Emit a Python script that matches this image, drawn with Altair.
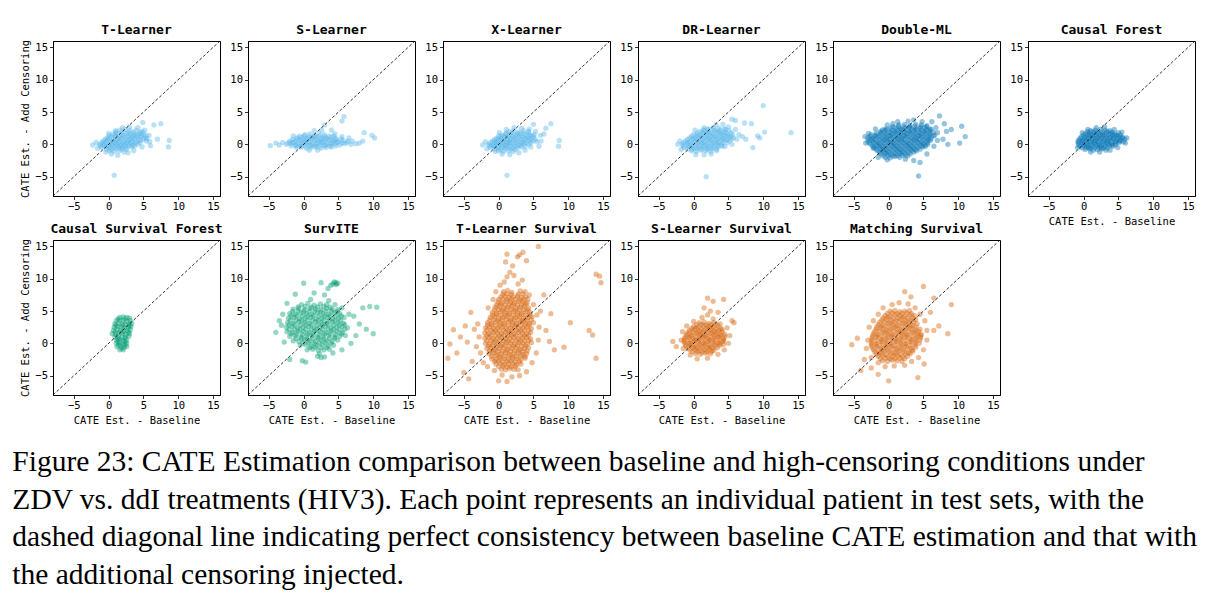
import altair as alt
import pandas as pd

# ---- axis set-up shared by every panel ----
AXIS_LIMITS = [-8, 16]
TICKS = [-5, 0, 5, 10, 15]
DIAGONAL = [-8, 16]

# ---- CATE estimates (baseline, with added censoring), one list per estimator ----
T_LEARNER = [
    (1.6, 2.2), (2.4, 2.3), (3.1, 2.1), (3.9, 2.2), (4.8, 2.0),
    (0.6, 1.6), (1.2, 1.7), (1.9, 1.5), (2.5, 1.7), (3.2, 1.6), (3.8, 1.5), (4.4, 1.7), (5.0, 1.6),
    (-0.2, 1.0), (0.4, 1.1), (1.0, 1.2), (1.6, 1.0), (2.2, 1.1), (2.8, 1.2), (3.4, 1.0), (4.0, 1.1), (4.6, 1.2), (5.3, 1.0),
    (-0.8, 0.5), (-0.2, 0.6), (0.4, 0.4), (1.0, 0.6), (1.6, 0.5), (2.2, 0.4), (2.8, 0.6), (3.4, 0.5), (4.0, 0.4), (4.6, 0.6), (5.4, 0.5),
    (-1.3, 0.0), (-0.7, 0.1), (-0.1, -0.1), (0.5, 0.0), (1.1, 0.1), (1.7, -0.1), (2.3, 0.0), (2.9, 0.1), (3.5, -0.1), (4.2, 0.0),
    (-1.0, -0.5), (-0.4, -0.4), (0.2, -0.6), (0.8, -0.5), (1.4, -0.4), (2.0, -0.6), (2.6, -0.5), (3.3, -0.4),
    (0.1, -1.0), (0.8, -1.1), (1.5, -1.0), (2.2, -1.2),
    (1.0, 1.9), (1.9, 1.95), (2.8, 1.9), (3.6, 1.85), (4.5, 1.9),
    (0.1, 1.35), (0.9, 1.4), (1.5, 1.3), (2.2, 1.4), (2.9, 1.35), (3.5, 1.3), (4.1, 1.4), (4.7, 1.35), (5.3, 1.4),
    (-0.5, 0.8), (0.1, 0.85), (0.7, 0.75), (1.3, 0.8), (1.9, 0.85), (2.5, 0.75), (3.1, 0.8), (3.7, 0.85), (4.3, 0.75), (5.0, 0.8),
    (-1.0, 0.25), (-0.4, 0.3), (0.2, 0.2), (0.8, 0.25), (1.4, 0.3), (2.0, 0.2), (2.6, 0.25), (3.2, 0.3), (3.8, 0.2), (4.5, 0.25),
    (-1.2, -0.25), (-0.6, -0.2), (0.0, -0.3), (0.6, -0.25), (1.2, -0.2), (1.8, -0.3), (2.4, -0.25), (3.0, -0.2), (3.7, -0.3),
    (-0.3, -0.75), (0.4, -0.8), (1.1, -0.7), (1.8, -0.75), (2.5, -0.8),
    (-2.3, -0.1), (-1.8, 0.3), (-1.6, -0.6), (0.0, 1.7), (1.0, 2.1), (2.0, 2.6), (3.0, 2.7), (4.2, 2.6), (5.2, 2.2),
    (5.8, 1.4), (5.9, 0.4), (6.0, -0.2), (5.5, 0.9), (4.8, -0.4), (3.6, -1.0), (2.8, -1.3), (1.3, -1.7), (0.4, -1.5), (-0.4, -1.2),
    (6.5, 3.0), (7.5, 3.2), (8.7, 0.6), (8.6, -0.4), (0.8, -4.8), (4.9, 3.4), (7.0, 0.8),
]

S_LEARNER = [
    (0.2, 1.5), (0.9, 1.6), (1.6, 1.4), (2.3, 1.6), (3.0, 1.5),
    (-1.0, 1.0), (-0.3, 1.1), (0.4, 0.9), (1.1, 1.0), (1.8, 1.1), (2.5, 0.9), (3.2, 1.0), (3.9, 1.1), (4.6, 0.9),
    (-2.0, 0.5), (-1.3, 0.4), (-0.6, 0.6), (0.1, 0.5), (0.8, 0.4), (1.5, 0.6), (2.2, 0.5), (2.9, 0.4), (3.6, 0.6),
    (4.3, 0.5), (5.0, 0.4), (5.7, 0.6), (6.4, 0.5),
    (-2.5, 0.0), (-1.8, 0.1), (-1.1, -0.1), (-0.4, 0.0), (0.3, 0.1), (1.0, -0.1), (1.7, 0.0), (2.4, 0.1), (3.1, -0.1),
    (3.8, 0.0), (4.5, 0.1), (5.2, -0.1), (5.9, 0.1), (6.8, 0.0), (7.5, 0.1),
    (-1.0, -0.5), (-0.3, -0.4), (0.4, -0.6), (1.1, -0.5), (1.8, -0.4), (2.5, -0.6), (3.2, -0.5), (4.0, -0.4),
    (-0.6, 1.25), (0.1, 1.3), (0.8, 1.2), (1.5, 1.25), (2.2, 1.3), (2.9, 1.2), (3.6, 1.25), (4.3, 1.3),
    (-1.6, 0.75), (-0.9, 0.8), (-0.2, 0.7), (0.5, 0.75), (1.2, 0.8), (1.9, 0.7), (2.6, 0.75), (3.3, 0.8), (4.0, 0.7),
    (4.7, 0.75), (5.4, 0.8),
    (-2.2, 0.25), (-1.5, 0.3), (-0.8, 0.2), (-0.1, 0.25), (0.6, 0.3), (1.3, 0.2), (2.0, 0.25), (2.7, 0.3), (3.4, 0.2),
    (4.1, 0.25), (4.8, 0.3), (5.5, 0.2), (6.2, 0.25),
    (-1.8, -0.25), (-1.1, -0.2), (-0.4, -0.3), (0.3, -0.25), (1.0, -0.2), (1.7, -0.3), (2.4, -0.25), (3.1, -0.2),
    (3.8, -0.3), (4.6, -0.25),
    (-3.5, -0.1), (-4.0, 0.2), (-4.8, -0.2), (-3.0, 0.3), (0.8, -0.9), (2.0, -0.9), (1.5, 2.1), (2.6, 2.2), (3.0, 3.0),
    (5.5, 3.6), (5.8, 4.3), (4.5, 1.6), (5.5, 1.2), (6.5, 1.0), (7.0, 0.5), (8.0, 0.2), (8.7, 1.8), (9.8, 1.4),
    (10.2, 1.0), (8.5, 0.5), (-1.5, 1.3), (4.0, 2.2),
]

X_LEARNER = [
    (1.5, 2.0), (2.2, 2.1), (2.9, 1.9), (3.6, 2.1), (4.3, 2.0),
    (0.4, 1.4), (1.0, 1.6), (1.7, 1.5), (2.4, 1.4), (3.1, 1.6), (3.8, 1.5), (4.5, 1.4), (5.1, 1.5),
    (-0.3, 0.9), (0.3, 1.0), (0.9, 1.1), (1.6, 0.9), (2.3, 1.0), (3.0, 1.1), (3.7, 0.9), (4.4, 1.0), (5.0, 1.1),
    (-0.9, 0.5), (-0.3, 0.4), (0.3, 0.6), (0.9, 0.5), (1.5, 0.4), (2.1, 0.6), (2.8, 0.5), (3.5, 0.4), (4.2, 0.6), (4.9, 0.5), (5.5, 0.4),
    (-1.5, 0.0), (-0.9, -0.1), (-0.3, 0.1), (0.3, 0.0), (0.9, -0.1), (1.5, 0.1), (2.2, 0.0), (2.9, -0.1), (3.6, 0.1), (4.3, 0.0),
    (-1.2, -0.5), (-0.6, -0.4), (0.0, -0.6), (0.7, -0.5), (1.3, -0.4), (2.0, -0.6), (2.7, -0.5), (3.3, -0.4),
    (0.0, -1.0), (0.7, -1.1), (1.4, -1.0), (2.1, -1.1),
    (1.1, 1.75), (1.9, 1.8), (2.7, 1.7), (3.5, 1.75), (4.3, 1.8),
    (0.0, 1.25), (0.7, 1.3), (1.3, 1.2), (2.0, 1.25), (2.7, 1.3), (3.4, 1.2), (4.1, 1.25), (4.8, 1.3),
    (-0.6, 0.75), (0.0, 0.8), (0.6, 0.7), (1.2, 0.75), (1.8, 0.8), (2.5, 0.7), (3.2, 0.75), (3.9, 0.8), (4.6, 0.7), (5.3, 0.75),
    (-1.2, 0.25), (-0.6, 0.3), (0.0, 0.2), (0.6, 0.25), (1.2, 0.3), (1.8, 0.2), (2.5, 0.25), (3.2, 0.3), (3.9, 0.2), (4.6, 0.25),
    (-1.3, -0.25), (-0.7, -0.2), (-0.1, -0.3), (0.5, -0.25), (1.1, -0.2), (1.7, -0.3), (2.4, -0.25), (3.1, -0.2), (3.8, -0.3),
    (-0.5, -0.75), (0.3, -0.8), (1.0, -0.7), (1.7, -0.75), (2.4, -0.8),
    (-2.3, -0.1), (-1.9, 0.4), (-1.7, -0.7), (0.1, 1.8), (1.1, 2.3), (2.2, 2.6), (3.3, 2.5), (4.4, 2.4), (5.3, 2.0),
    (6.0, 1.4), (6.1, 0.5), (5.8, -0.3), (4.6, -0.4), (3.8, -0.9), (2.9, -1.3), (1.6, -1.6), (0.5, -1.5), (-0.5, -1.1),
    (6.8, 2.5), (7.5, 3.2), (8.7, 0.6), (8.6, -0.3), (1.2, -4.8), (5.0, 3.1), (6.5, 1.6),
]

DR_LEARNER = [
    (2.0, 2.4), (2.8, 2.6), (3.6, 2.5), (4.4, 2.4),
    (0.9, 2.0), (1.6, 2.1), (2.3, 1.9), (3.0, 2.1), (3.7, 2.0), (4.4, 1.9), (5.1, 2.1),
    (0.0, 1.5), (0.7, 1.4), (1.4, 1.6), (2.1, 1.5), (2.8, 1.4), (3.5, 1.6), (4.2, 1.5), (4.9, 1.4), (5.6, 1.5),
    (-0.6, 1.0), (0.1, 0.9), (0.8, 1.1), (1.5, 1.0), (2.2, 0.9), (2.9, 1.1), (3.6, 1.0), (4.3, 0.9), (5.0, 1.1), (5.7, 1.0),
    (-1.2, 0.5), (-0.5, 0.4), (0.2, 0.6), (0.9, 0.5), (1.6, 0.4), (2.3, 0.6), (3.0, 0.5), (3.7, 0.4), (4.4, 0.6), (5.1, 0.5),
    (-1.6, 0.0), (-0.9, 0.1), (-0.2, -0.1), (0.5, 0.0), (1.2, 0.1), (1.9, -0.1), (2.6, 0.0), (3.3, 0.1), (4.0, -0.1),
    (-1.4, -0.5), (-0.7, -0.4), (0.0, -0.6), (0.7, -0.5), (1.4, -0.4), (2.1, -0.6), (2.8, -0.5), (3.5, -0.4),
    (-0.3, -1.0), (0.4, -1.1), (1.1, -0.9), (1.8, -1.0), (2.5, -1.1),
    (1.4, 2.25), (2.2, 2.3), (3.0, 2.2), (3.8, 2.25), (4.6, 2.3),
    (0.5, 1.75), (1.2, 1.8), (1.9, 1.7), (2.6, 1.75), (3.3, 1.8), (4.0, 1.7), (4.7, 1.75), (5.4, 1.8),
    (-0.3, 1.25), (0.4, 1.3), (1.1, 1.2), (1.8, 1.25), (2.5, 1.3), (3.2, 1.2), (3.9, 1.25), (4.6, 1.3), (5.3, 1.2),
    (-0.9, 0.75), (-0.2, 0.8), (0.5, 0.7), (1.2, 0.75), (1.9, 0.8), (2.6, 0.7), (3.3, 0.75), (4.0, 0.8), (4.7, 0.7), (5.4, 0.75),
    (-1.5, 0.25), (-0.8, 0.3), (-0.1, 0.2), (0.6, 0.25), (1.3, 0.3), (2.0, 0.2), (2.7, 0.25), (3.4, 0.3), (4.1, 0.2), (4.8, 0.25),
    (-1.5, -0.25), (-0.8, -0.2), (-0.1, -0.3), (0.6, -0.25), (1.3, -0.2), (2.0, -0.3), (2.7, -0.25), (3.4, -0.2), (4.1, -0.3),
    (-0.9, -0.75), (-0.2, -0.8), (0.5, -0.7), (1.2, -0.75), (1.9, -0.8), (2.6, -0.7), (3.3, -0.75),
    (-2.3, 0.0), (-2.0, 0.5), (-1.8, -0.8), (0.3, -1.6), (1.5, -1.6), (2.5, -1.5), (3.3, -1.0), (4.5, -0.3), (5.5, 0.0),
    (6.2, 0.8), (6.5, 1.5), (6.0, 2.3), (5.0, 2.7), (4.2, 3.1), (3.2, 3.0), (1.5, 2.6), (0.2, 2.2), (5.5, 3.9), (6.0, 3.7),
    (10.0, 6.0), (14.0, 1.8), (10.2, 1.9), (8.5, -0.5), (8.3, 3.2), (7.3, 3.3), (1.8, -5.0), (9.5, 1.0), (9.2, 1.3),
    (7.0, 1.2), (7.5, 0.8),
]

DOUBLE_ML = [
    (1.5, 3.0), (2.3, 3.1), (3.1, 2.9), (3.9, 3.1), (4.7, 3.0), (5.5, 2.9),
    (-0.5, 2.4), (0.3, 2.5), (1.0, 2.6), (1.7, 2.4), (2.4, 2.5), (3.1, 2.6), (3.8, 2.4), (4.5, 2.5), (5.2, 2.6), (5.9, 2.4),
    (-1.2, 2.0), (-0.5, 2.1), (0.2, 1.9), (0.9, 2.0), (1.6, 2.1), (2.3, 1.9), (3.0, 2.0), (3.7, 2.1), (4.4, 1.9),
    (5.1, 2.0), (5.8, 2.1), (6.4, 1.9),
    (-2.5, 1.5), (-1.8, 1.4), (-1.1, 1.6), (-0.4, 1.5), (0.3, 1.4), (1.0, 1.6), (1.7, 1.5), (2.4, 1.4), (3.1, 1.6),
    (3.8, 1.5), (4.5, 1.4), (5.2, 1.6), (5.9, 1.5), (6.6, 1.4),
    (-3.0, 1.0), (-2.3, 0.9), (-1.6, 1.1), (-0.9, 1.0), (-0.2, 0.9), (0.5, 1.1), (1.2, 1.0), (1.9, 0.9), (2.6, 1.1),
    (3.3, 1.0), (4.0, 0.9), (4.7, 1.1), (5.4, 1.0), (6.1, 0.9),
    (-3.0, 0.5), (-2.3, 0.6), (-1.6, 0.4), (-0.9, 0.5), (-0.2, 0.6), (0.5, 0.4), (1.2, 0.5), (1.9, 0.6), (2.6, 0.4),
    (3.3, 0.5), (4.0, 0.6), (4.7, 0.4), (5.4, 0.5), (6.0, 0.6),
    (-2.6, 0.0), (-1.9, 0.1), (-1.2, -0.1), (-0.5, 0.0), (0.2, 0.1), (0.9, -0.1), (1.6, 0.0), (2.3, 0.1), (3.0, -0.1),
    (3.7, 0.0), (4.4, 0.1), (5.1, -0.1), (5.6, 0.0),
    (-2.1, -0.5), (-1.4, -0.4), (-0.7, -0.6), (0.0, -0.5), (0.7, -0.4), (1.4, -0.6), (2.1, -0.5), (2.8, -0.4),
    (3.5, -0.6), (4.2, -0.5), (4.9, -0.4),
    (-1.6, -1.0), (-0.9, -0.9), (-0.2, -1.1), (0.5, -1.0), (1.2, -0.9), (1.9, -1.1), (2.6, -1.0), (3.3, -0.9), (4.0, -1.0),
    (-1.1, -1.5), (-0.4, -1.4), (0.3, -1.6), (1.0, -1.5), (1.7, -1.4), (2.4, -1.6), (3.1, -1.5),
    (-0.5, -2.0), (0.2, -2.1), (0.9, -1.9), (1.6, -2.0),
    (0.6, 2.75), (1.4, 2.8), (2.2, 2.7), (3.0, 2.75), (3.8, 2.8), (4.6, 2.7), (5.4, 2.75),
    (-0.9, 2.25), (-0.2, 2.3), (0.5, 2.2), (1.2, 2.25), (1.9, 2.3), (2.6, 2.2), (3.3, 2.25), (4.0, 2.3), (4.7, 2.2),
    (5.4, 2.25), (6.1, 2.3),
    (-1.8, 1.75), (-1.1, 1.8), (-0.4, 1.7), (0.3, 1.75), (1.0, 1.8), (1.7, 1.7), (2.4, 1.75), (3.1, 1.8), (3.8, 1.7),
    (4.5, 1.75), (5.2, 1.8), (5.9, 1.7),
    (-2.7, 1.25), (-2.0, 1.3), (-1.3, 1.2), (-0.6, 1.25), (0.1, 1.3), (0.8, 1.2), (1.5, 1.25), (2.2, 1.3), (2.9, 1.2),
    (3.6, 1.25), (4.3, 1.3), (5.0, 1.2), (5.7, 1.25), (6.4, 1.3),
    (-2.7, 0.75), (-2.0, 0.8), (-1.3, 0.7), (-0.6, 0.75), (0.1, 0.8), (0.8, 0.7), (1.5, 0.75), (2.2, 0.8), (2.9, 0.7),
    (3.6, 0.75), (4.3, 0.8), (5.0, 0.7), (5.7, 0.75),
    (-2.8, 0.25), (-2.1, 0.3), (-1.4, 0.2), (-0.7, 0.25), (0.0, 0.3), (0.7, 0.2), (1.4, 0.25), (2.1, 0.3), (2.8, 0.2),
    (3.5, 0.25), (4.2, 0.3), (4.9, 0.2), (5.6, 0.25),
    (-2.3, -0.25), (-1.6, -0.2), (-0.9, -0.3), (-0.2, -0.25), (0.5, -0.2), (1.2, -0.3), (1.9, -0.25), (2.6, -0.2),
    (3.3, -0.3), (4.0, -0.25), (4.7, -0.2), (5.3, -0.3),
    (-1.8, -0.75), (-1.1, -0.7), (-0.4, -0.8), (0.3, -0.75), (1.0, -0.7), (1.7, -0.8), (2.4, -0.75), (3.1, -0.7),
    (3.8, -0.8), (4.5, -0.75),
    (-1.3, -1.25), (-0.6, -1.2), (0.1, -1.3), (0.8, -1.25), (1.5, -1.2), (2.2, -1.3), (2.9, -1.25), (3.6, -1.2),
    (-0.8, -1.75), (-0.1, -1.7), (0.6, -1.8), (1.3, -1.75), (2.0, -1.7), (2.7, -1.8),
    (-3.4, 1.2), (-3.3, 0.2), (-2.9, 1.7), (-2.2, -0.6), (-1.9, 2.4), (-0.2, 3.0), (0.6, 3.2), (1.3, 3.5), (2.8, 3.6),
    (3.6, 3.8), (4.8, 3.5), (6.2, 3.5), (6.8, 2.6), (7.0, 1.8), (7.0, 0.6), (6.5, -0.3), (5.5, -1.5), (4.5, -2.8),
    (3.6, -2.5), (2.4, -2.3), (-0.2, -2.4), (-1.5, -2.0),
    (7.3, 4.4), (8.3, 2.0), (9.0, 2.3), (10.5, 2.8), (11.0, 1.2), (10.2, 0.2), (8.5, 0.0), (4.3, -4.9), (7.8, 0.8), (8.0, 3.2),
]

CAUSAL_FOREST = [
    (1.0, 2.1), (1.7, 2.2), (2.4, 2.3), (3.1, 2.2), (3.8, 2.1),
    (0.3, 1.7), (0.9, 1.6), (1.5, 1.8), (2.1, 1.7), (2.7, 1.6), (3.3, 1.8), (3.9, 1.7), (4.5, 1.6), (5.0, 1.8),
    (-0.3, 1.2), (0.3, 1.1), (0.9, 1.3), (1.5, 1.2), (2.1, 1.1), (2.7, 1.3), (3.3, 1.2), (3.9, 1.1), (4.5, 1.3),
    (5.1, 1.2), (5.6, 1.1),
    (-0.7, 0.7), (-0.1, 0.6), (0.5, 0.8), (1.1, 0.7), (1.7, 0.6), (2.3, 0.8), (2.9, 0.7), (3.5, 0.6), (4.1, 0.8),
    (4.7, 0.7), (5.3, 0.6), (5.9, 0.8),
    (-0.8, 0.2), (-0.2, 0.3), (0.4, 0.1), (1.0, 0.2), (1.6, 0.3), (2.2, 0.1), (2.8, 0.2), (3.4, 0.3), (4.0, 0.1),
    (4.6, 0.2), (5.1, 0.3),
    (-0.5, -0.3), (0.1, -0.2), (0.7, -0.4), (1.3, -0.3), (1.9, -0.2), (2.5, -0.4), (3.1, -0.3), (3.7, -0.2), (4.2, -0.3),
    (0.2, -0.8), (0.8, -0.7), (1.4, -0.9), (2.0, -0.8), (2.6, -0.7), (3.2, -0.9),
    (0.6, 1.95), (1.3, 2.0), (2.0, 1.9), (2.7, 1.95), (3.4, 2.0), (4.1, 1.9),
    (0.0, 1.45), (0.6, 1.5), (1.2, 1.4), (1.8, 1.45), (2.4, 1.5), (3.0, 1.4), (3.6, 1.45), (4.2, 1.5), (4.8, 1.4), (5.3, 1.45),
    (-0.5, 0.95), (0.1, 1.0), (0.7, 0.9), (1.3, 0.95), (1.9, 1.0), (2.5, 0.9), (3.1, 0.95), (3.7, 1.0), (4.3, 0.9),
    (4.9, 0.95), (5.5, 1.0),
    (-0.8, 0.45), (-0.2, 0.5), (0.4, 0.4), (1.0, 0.45), (1.6, 0.5), (2.2, 0.4), (2.8, 0.45), (3.4, 0.5), (4.0, 0.4),
    (4.6, 0.45), (5.2, 0.5), (5.7, 0.4),
    (-0.7, -0.05), (-0.1, 0.0), (0.5, -0.1), (1.1, -0.05), (1.7, 0.0), (2.3, -0.1), (2.9, -0.05), (3.5, 0.0), (4.1, -0.1),
    (4.6, -0.05),
    (-0.2, -0.55), (0.4, -0.5), (1.0, -0.6), (1.6, -0.55), (2.2, -0.5), (2.8, -0.6), (3.4, -0.55),
    (-0.9, -0.5), (-0.2, 1.8), (0.6, 2.3), (1.8, 2.6), (3.0, 2.7), (4.4, 2.3), (5.5, 1.9), (6.2, 1.0), (6.0, 0.2),
    (4.9, -0.5), (3.8, -0.9), (2.3, -1.2), (1.0, -1.2),
]

CAUSAL_SURVIVAL_FOREST = [
    (1.6, 4.0), (2.1, 4.1), (2.6, 4.0), (3.0, 3.9),
    (1.1, 3.5), (1.6, 3.6), (2.1, 3.5), (2.6, 3.4), (3.1, 3.5),
    (0.9, 3.0), (1.4, 3.1), (1.9, 3.0), (2.4, 2.9), (2.9, 3.0), (3.3, 3.1),
    (0.8, 2.5), (1.3, 2.6), (1.8, 2.5), (2.3, 2.4), (2.8, 2.5), (3.2, 2.6),
    (0.7, 2.0), (1.2, 2.1), (1.7, 2.0), (2.2, 1.9), (2.7, 2.0), (3.1, 2.1),
    (0.5, 1.5), (1.0, 1.4), (1.5, 1.6), (2.0, 1.5), (2.5, 1.4), (3.0, 1.5),
    (0.9, 1.0), (1.4, 1.1), (1.9, 0.9), (2.4, 1.0), (2.9, 1.1),
    (1.1, 0.5), (1.6, 0.6), (2.1, 0.4), (2.6, 0.5),
    (1.1, 0.0), (1.6, 0.1), (2.1, -0.1), (2.6, 0.0),
    (1.2, -0.5), (1.7, -0.4), (2.2, -0.6), (2.6, -0.5),
    (1.6, -1.0), (2.1, -1.0),
    (1.35, 3.8), (2.35, 3.8), (1.05, 2.75), (2.05, 2.75), (3.05, 2.75), (0.95, 1.75), (1.95, 1.75), (2.85, 1.75),
    (1.35, 0.75), (2.35, 0.75), (1.35, 0.25), (2.35, 0.25), (1.45, -0.25), (2.35, -0.25), (1.85, -0.75),
]

SURVITE = [
    (-0.3, 6.0), (0.6, 6.2), (1.5, 5.9), (2.4, 6.1), (3.3, 6.0),
    (-1.5, 5.3), (-0.7, 5.4), (0.1, 5.2), (0.9, 5.4), (1.7, 5.3), (2.5, 5.2), (3.3, 5.4), (4.1, 5.3), (4.9, 5.2),
    (-2.0, 4.6), (-1.2, 4.5), (-0.4, 4.7), (0.4, 4.6), (1.2, 4.5), (2.0, 4.7), (2.8, 4.6), (3.6, 4.5), (4.4, 4.7), (5.2, 4.6),
    (-2.2, 3.9), (-1.4, 4.0), (-0.6, 3.8), (0.2, 3.9), (1.0, 4.0), (1.8, 3.8), (2.6, 3.9), (3.4, 4.0), (4.2, 3.8),
    (5.0, 3.9), (5.8, 4.0),
    (-2.3, 3.2), (-1.5, 3.1), (-0.7, 3.3), (0.1, 3.2), (0.9, 3.1), (1.7, 3.3), (2.5, 3.2), (3.3, 3.1), (4.1, 3.3),
    (4.9, 3.2), (5.7, 3.1),
    (-2.5, 2.5), (-1.7, 2.6), (-0.9, 2.4), (-0.1, 2.5), (0.7, 2.6), (1.5, 2.4), (2.3, 2.5), (3.1, 2.6), (3.9, 2.4),
    (4.7, 2.5), (5.5, 2.6), (6.3, 2.4),
    (-2.4, 1.8), (-1.6, 1.7), (-0.8, 1.9), (0.0, 1.8), (0.8, 1.7), (1.6, 1.9), (2.4, 1.8), (3.2, 1.7), (4.0, 1.9),
    (4.8, 1.8), (5.6, 1.7),
    (-2.0, 1.1), (-1.2, 1.2), (-0.4, 1.0), (0.4, 1.1), (1.2, 1.2), (2.0, 1.0), (2.8, 1.1), (3.6, 1.2), (4.4, 1.0),
    (5.2, 1.1), (6.0, 1.2),
    (-1.5, 0.4), (-0.7, 0.3), (0.1, 0.5), (0.9, 0.4), (1.7, 0.3), (2.5, 0.5), (3.3, 0.4), (4.1, 0.3), (4.9, 0.5),
    (-0.5, -0.3), (0.3, -0.2), (1.1, -0.4), (1.9, -0.3), (2.7, -0.2), (3.5, -0.4), (4.3, -0.3),
    (0.5, -1.0), (1.3, -0.9), (2.1, -1.1), (2.9, -1.0), (3.7, -0.9),
    (-0.8, 5.65), (0.2, 5.7), (1.1, 5.6), (2.0, 5.65), (2.9, 5.7), (3.8, 5.6),
    (-1.6, 4.95), (-0.8, 5.0), (0.0, 4.9), (0.8, 4.95), (1.6, 5.0), (2.4, 4.9), (3.2, 4.95), (4.0, 5.0), (4.8, 4.9),
    (-1.8, 4.25), (-1.0, 4.3), (-0.2, 4.2), (0.6, 4.25), (1.4, 4.3), (2.2, 4.2), (3.0, 4.25), (3.8, 4.3), (4.6, 4.2), (5.4, 4.25),
    (-1.9, 3.55), (-1.1, 3.6), (-0.3, 3.5), (0.5, 3.55), (1.3, 3.6), (2.1, 3.5), (2.9, 3.55), (3.7, 3.6), (4.5, 3.5), (5.3, 3.55),
    (-2.1, 2.85), (-1.3, 2.9), (-0.5, 2.8), (0.3, 2.85), (1.1, 2.9), (1.9, 2.8), (2.7, 2.85), (3.5, 2.9), (4.3, 2.8),
    (5.1, 2.85), (5.9, 2.9),
    (-2.1, 2.15), (-1.3, 2.2), (-0.5, 2.1), (0.3, 2.15), (1.1, 2.2), (1.9, 2.1), (2.7, 2.15), (3.5, 2.2), (4.3, 2.1),
    (5.1, 2.15), (5.9, 2.2),
    (-1.8, 1.45), (-1.0, 1.5), (-0.2, 1.4), (0.6, 1.45), (1.4, 1.5), (2.2, 1.4), (3.0, 1.45), (3.8, 1.5), (4.6, 1.4), (5.4, 1.45),
    (-1.1, 0.75), (-0.3, 0.8), (0.5, 0.7), (1.3, 0.75), (2.1, 0.8), (2.9, 0.7), (3.7, 0.75), (4.5, 0.8),
    (-0.1, 0.05), (0.7, 0.1), (1.5, 0.0), (2.3, 0.05), (3.1, 0.1), (3.9, 0.0),
    (0.9, -0.65), (1.7, -0.6), (2.5, -0.7), (3.3, -0.65),
    (2.0, -2.0), (2.5, -2.2), (3.0, -2.1), (2.3, -1.6),
    (4.2, 9.2), (4.6, 9.4), (4.9, 9.3), (4.4, 9.5), (4.7, 9.1), (3.9, 9.0),
    (-4.0, 1.7), (-3.2, 2.8), (-3.0, 4.5), (-2.4, 6.2), (-1.2, 7.6), (0.0, 9.3), (2.5, 9.4), (1.0, 6.8), (3.0, 7.5),
    (3.6, 6.6), (4.5, 6.0), (5.5, 5.5), (6.5, 4.5), (7.2, 4.2), (8.5, 5.5), (9.5, 5.7), (10.5, 5.6), (7.5, 1.2),
    (8.0, 3.0), (9.0, 2.2), (10.0, 1.5), (6.8, 0.0), (5.5, -1.0), (4.2, -1.5), (-2.0, -2.5), (-0.2, -2.7), (0.3, -2.9),
    (-2.8, 0.2), (-3.5, 3.5), (3.5, 8.5), (1.5, 7.8),
]

T_LEARNER_SURVIVAL = [
    (0.7, 8.0), (1.3, 8.2), (1.9, 7.9), (3.1, 8.1), (3.8, 8.0),
    (0.3, 7.2), (0.9, 7.3), (1.5, 7.1), (2.1, 7.2), (2.7, 7.3), (3.3, 7.1), (3.9, 7.2),
    (-0.1, 6.4), (0.5, 6.3), (1.1, 6.5), (1.7, 6.4), (2.3, 6.3), (2.9, 6.5), (3.5, 6.4), (4.1, 6.3),
    (-0.5, 5.6), (0.1, 5.7), (0.7, 5.5), (1.3, 5.6), (1.9, 5.7), (2.5, 5.5), (3.1, 5.6), (3.7, 5.7), (4.3, 5.5),
    (-0.9, 4.8), (-0.3, 4.7), (0.3, 4.9), (0.9, 4.8), (1.5, 4.7), (2.1, 4.9), (2.7, 4.8), (3.3, 4.7), (3.9, 4.9), (4.5, 4.8),
    (-1.2, 4.0), (-0.6, 4.1), (0.0, 3.9), (0.6, 4.0), (1.2, 4.1), (1.8, 3.9), (2.4, 4.0), (3.0, 4.1), (3.6, 3.9),
    (4.2, 4.0), (4.8, 4.1),
    (-1.6, 3.2), (-1.0, 3.1), (-0.4, 3.3), (0.2, 3.2), (0.8, 3.1), (1.4, 3.3), (2.0, 3.2), (2.6, 3.1), (3.2, 3.3),
    (3.8, 3.2), (4.4, 3.1), (5.0, 3.2),
    (-1.9, 2.4), (-1.3, 2.5), (-0.7, 2.3), (-0.1, 2.4), (0.5, 2.5), (1.1, 2.3), (1.7, 2.4), (2.3, 2.5), (2.9, 2.3),
    (3.5, 2.4), (4.1, 2.5), (4.7, 2.3),
    (-2.0, 1.6), (-1.4, 1.5), (-0.8, 1.7), (-0.2, 1.6), (0.4, 1.5), (1.0, 1.7), (1.6, 1.6), (2.2, 1.5), (2.8, 1.7),
    (3.4, 1.6), (4.0, 1.5), (4.6, 1.7),
    (-2.0, 0.8), (-1.4, 0.9), (-0.8, 0.7), (-0.2, 0.8), (0.4, 0.9), (1.0, 0.7), (1.6, 0.8), (2.2, 0.9), (2.8, 0.7),
    (3.4, 0.8), (4.0, 0.9), (4.6, 0.7),
    (-1.9, 0.0), (-1.3, -0.1), (-0.7, 0.1), (-0.1, 0.0), (0.5, -0.1), (1.1, 0.1), (1.7, 0.0), (2.3, -0.1), (2.9, 0.1),
    (3.5, 0.0), (4.1, -0.1), (4.7, 0.1),
    (-1.7, -0.8), (-1.1, -0.7), (-0.5, -0.9), (0.1, -0.8), (0.7, -0.7), (1.3, -0.9), (1.9, -0.8), (2.5, -0.7),
    (3.1, -0.9), (3.7, -0.8), (4.3, -0.7),
    (-1.4, -1.6), (-0.8, -1.5), (-0.2, -1.7), (0.4, -1.6), (1.0, -1.5), (1.6, -1.7), (2.2, -1.6), (2.8, -1.5),
    (3.4, -1.7), (4.0, -1.6),
    (-1.0, -2.4), (-0.4, -2.5), (0.2, -2.3), (0.8, -2.4), (1.4, -2.5), (2.0, -2.3), (2.6, -2.4), (3.2, -2.5), (3.8, -2.3),
    (-0.4, -3.2), (0.2, -3.1), (0.8, -3.3), (1.4, -3.2), (2.0, -3.1), (2.6, -3.3), (3.2, -3.2),
    (0.4, -4.0), (1.0, -4.1), (1.6, -3.9), (2.2, -4.0), (2.8, -4.1),
    (0.6, 7.6), (1.2, 7.65), (1.8, 7.55), (2.8, 7.6), (3.5, 7.65),
    (0.0, 6.8), (0.6, 6.85), (1.2, 6.75), (1.8, 6.8), (2.4, 6.85), (3.0, 6.75), (3.6, 6.8), (4.2, 6.85),
    (-0.3, 6.0), (0.3, 6.05), (0.9, 5.95), (1.5, 6.0), (2.1, 6.05), (2.7, 5.95), (3.3, 6.0), (3.9, 6.05),
    (-0.6, 5.2), (0.0, 5.25), (0.6, 5.15), (1.2, 5.2), (1.8, 5.25), (2.4, 5.15), (3.0, 5.2), (3.6, 5.25), (4.2, 5.15),
    (-0.9, 4.4), (-0.3, 4.45), (0.3, 4.35), (0.9, 4.4), (1.5, 4.45), (2.1, 4.35), (2.7, 4.4), (3.3, 4.45), (3.9, 4.35), (4.5, 4.4),
    (-1.3, 3.6), (-0.7, 3.65), (-0.1, 3.55), (0.5, 3.6), (1.1, 3.65), (1.7, 3.55), (2.3, 3.6), (2.9, 3.65), (3.5, 3.55),
    (4.1, 3.6), (4.7, 3.65),
    (-1.6, 2.8), (-1.0, 2.85), (-0.4, 2.75), (0.2, 2.8), (0.8, 2.85), (1.4, 2.75), (2.0, 2.8), (2.6, 2.85), (3.2, 2.75),
    (3.8, 2.8), (4.4, 2.85),
    (-1.7, 2.0), (-1.1, 2.05), (-0.5, 1.95), (0.1, 2.0), (0.7, 2.05), (1.3, 1.95), (1.9, 2.0), (2.5, 2.05), (3.1, 1.95),
    (3.7, 2.0), (4.3, 2.05),
    (-1.7, 1.2), (-1.1, 1.25), (-0.5, 1.15), (0.1, 1.2), (0.7, 1.25), (1.3, 1.15), (1.9, 1.2), (2.5, 1.25), (3.1, 1.15),
    (3.7, 1.2), (4.3, 1.25),
    (-1.7, 0.4), (-1.1, 0.45), (-0.5, 0.35), (0.1, 0.4), (0.7, 0.45), (1.3, 0.35), (1.9, 0.4), (2.5, 0.45), (3.1, 0.35),
    (3.7, 0.4), (4.3, 0.45),
    (-1.5, -0.4), (-0.9, -0.35), (-0.3, -0.45), (0.3, -0.4), (0.9, -0.35), (1.5, -0.45), (2.1, -0.4), (2.7, -0.35),
    (3.3, -0.45), (3.9, -0.4),
    (-1.3, -1.2), (-0.7, -1.15), (-0.1, -1.25), (0.5, -1.2), (1.1, -1.15), (1.7, -1.25), (2.3, -1.2), (2.9, -1.15),
    (3.5, -1.25), (4.1, -1.2),
    (-1.0, -2.0), (-0.4, -1.95), (0.2, -2.05), (0.8, -2.0), (1.4, -1.95), (2.0, -2.05), (2.6, -2.0), (3.2, -1.95), (3.8, -2.05),
    (-0.6, -2.8), (0.0, -2.75), (0.6, -2.85), (1.2, -2.8), (1.8, -2.75), (2.4, -2.85), (3.0, -2.8),
    (0.0, -3.6), (0.6, -3.55), (1.2, -3.65), (1.8, -3.6), (2.4, -3.55),
    (-3.0, 3.0), (-2.8, 1.0), (-2.6, -1.5), (-2.2, -3.0), (-3.5, 2.2), (-3.2, -0.5), (-1.5, 5.5), (-0.8, 6.8),
    (-0.4, 8.0), (0.2, 9.0), (0.8, 9.5), (1.2, 10.3), (1.6, 11.0), (2.2, 10.5), (2.8, 9.2), (3.4, 9.8), (4.4, 7.5),
    (5.0, 6.0), (5.5, 4.4), (5.8, 2.5), (5.7, 0.5), (5.4, -1.5), (4.8, -3.0), (4.0, -4.4), (3.0, -5.0), (1.9, -5.2),
    (0.5, -4.9), (-0.6, -4.2), (-1.6, -3.6), (6.0, 5.0), (6.5, 7.5), (7.5, 4.6), (6.8, 2.0), (7.3, 0.3),
    (5.7, 15.0), (1.2, 13.8), (3.0, 13.7), (3.5, 14.1), (2.7, 13.4), (1.0, 12.6), (2.0, 12.0), (4.0, 12.8),
    (14.0, 10.7), (14.5, 10.4), (14.7, 9.4), (13.0, 2.0), (13.5, 1.3), (14.0, -2.3), (10.3, 3.2), (9.4, -0.6),
    (-7.3, -2.3), (-6.5, 2.1), (-7.0, -0.1), (-5.0, -4.5), (-4.3, -5.5), (0.0, -5.8), (1.2, -5.9), (-5.5, 1.0),
    (-4.8, 2.7), (-6.0, -1.5), (-4.5, 0.2), (-3.8, -2.8), (-4.0, 4.8), (8.0, -1.0),
]

S_LEARNER_SURVIVAL = [
    (0.8, 3.2), (1.5, 3.3), (2.2, 3.1), (2.9, 3.2),
    (0.0, 2.6), (0.7, 2.5), (1.4, 2.7), (2.1, 2.6), (2.8, 2.5), (3.5, 2.7),
    (-0.6, 2.0), (0.1, 2.1), (0.8, 1.9), (1.5, 2.0), (2.2, 2.1), (2.9, 1.9), (3.6, 2.0), (4.1, 2.1),
    (-1.0, 1.4), (-0.3, 1.3), (0.4, 1.5), (1.1, 1.4), (1.8, 1.3), (2.5, 1.5), (3.2, 1.4), (3.9, 1.3), (4.5, 1.4),
    (-1.3, 0.8), (-0.6, 0.9), (0.1, 0.7), (0.8, 0.8), (1.5, 0.9), (2.2, 0.7), (2.9, 0.8), (3.6, 0.9), (4.3, 0.7),
    (-1.4, 0.2), (-0.7, 0.1), (0.0, 0.3), (0.7, 0.2), (1.4, 0.1), (2.1, 0.3), (2.8, 0.2), (3.5, 0.1), (4.2, 0.3),
    (-1.1, -0.4), (-0.4, -0.3), (0.3, -0.5), (1.0, -0.4), (1.7, -0.3), (2.4, -0.5), (3.1, -0.4), (3.8, -0.3),
    (-0.6, -1.0), (0.1, -0.9), (0.8, -1.1), (1.5, -1.0), (2.2, -0.9), (2.9, -1.1),
    (0.3, -1.6), (1.0, -1.7), (1.7, -1.5), (2.4, -1.6),
    (0.4, 2.9), (1.1, 2.95), (1.8, 2.85), (2.5, 2.9), (3.2, 2.95),
    (-0.3, 2.3), (0.4, 2.35), (1.1, 2.25), (1.8, 2.3), (2.5, 2.35), (3.2, 2.25), (3.9, 2.3),
    (-0.8, 1.7), (-0.1, 1.75), (0.6, 1.65), (1.3, 1.7), (2.0, 1.75), (2.7, 1.65), (3.4, 1.7), (4.1, 1.75),
    (-1.1, 1.1), (-0.4, 1.15), (0.3, 1.05), (1.0, 1.1), (1.7, 1.15), (2.4, 1.05), (3.1, 1.1), (3.8, 1.15), (4.5, 1.05),
    (-1.3, 0.5), (-0.6, 0.55), (0.1, 0.45), (0.8, 0.5), (1.5, 0.55), (2.2, 0.45), (2.9, 0.5), (3.6, 0.55), (4.3, 0.45),
    (-1.2, -0.1), (-0.5, -0.05), (0.2, -0.15), (0.9, -0.1), (1.6, -0.05), (2.3, -0.15), (3.0, -0.1), (3.7, -0.05), (4.3, -0.15),
    (-0.8, -0.7), (-0.1, -0.65), (0.6, -0.75), (1.3, -0.7), (2.0, -0.65), (2.7, -0.75), (3.4, -0.7),
    (-0.2, -1.3), (0.5, -1.25), (1.2, -1.35), (1.9, -1.3), (2.6, -1.25),
    (-1.8, 0.5), (-1.6, 1.8), (-1.0, 2.7), (0.0, 3.4), (1.2, 4.0), (2.0, 4.4), (2.8, 3.8), (3.8, 3.0), (4.8, 2.4),
    (5.2, 1.2), (5.0, 0.0), (4.4, -1.0), (3.5, -1.7), (2.0, -2.3), (0.5, -2.4), (-0.5, -1.8), (-1.5, -0.8),
    (2.0, 7.0), (2.8, 6.5), (4.3, 6.8), (1.5, 5.5), (2.4, 5.0), (-3.0, 0.3), (5.8, 3.2), (5.5, 3.5), (-2.5, -0.5), (3.5, 4.8),
]

MATCHING_SURVIVAL = [
    (0.2, 5.0), (0.9, 5.1), (1.6, 4.9), (2.3, 5.0), (3.0, 5.1),
    (-0.5, 4.3), (0.2, 4.2), (0.9, 4.4), (1.6, 4.3), (2.3, 4.2), (3.0, 4.4), (3.7, 4.3),
    (-1.0, 3.6), (-0.3, 3.7), (0.4, 3.5), (1.1, 3.6), (1.8, 3.7), (2.5, 3.5), (3.2, 3.6), (3.9, 3.7),
    (-1.5, 2.9), (-0.8, 2.8), (-0.1, 3.0), (0.6, 2.9), (1.3, 2.8), (2.0, 3.0), (2.7, 2.9), (3.4, 2.8), (4.1, 3.0),
    (-1.8, 2.2), (-1.1, 2.3), (-0.4, 2.1), (0.3, 2.2), (1.0, 2.3), (1.7, 2.1), (2.4, 2.2), (3.1, 2.3), (3.8, 2.1), (4.5, 2.2),
    (-2.2, 1.5), (-1.5, 1.4), (-0.8, 1.6), (-0.1, 1.5), (0.6, 1.4), (1.3, 1.6), (2.0, 1.5), (2.7, 1.4), (3.4, 1.6),
    (4.1, 1.5), (4.7, 1.4),
    (-2.4, 0.8), (-1.7, 0.9), (-1.0, 0.7), (-0.3, 0.8), (0.4, 0.9), (1.1, 0.7), (1.8, 0.8), (2.5, 0.9), (3.2, 0.7),
    (3.9, 0.8), (4.6, 0.9),
    (-2.5, 0.1), (-1.8, 0.0), (-1.1, 0.2), (-0.4, 0.1), (0.3, 0.0), (1.0, 0.2), (1.7, 0.1), (2.4, 0.0), (3.1, 0.2),
    (3.8, 0.1), (4.4, 0.0),
    (-2.4, -0.6), (-1.7, -0.5), (-1.0, -0.7), (-0.3, -0.6), (0.4, -0.5), (1.1, -0.7), (1.8, -0.6), (2.5, -0.5),
    (3.2, -0.7), (3.9, -0.6),
    (-2.0, -1.3), (-1.3, -1.4), (-0.6, -1.2), (0.1, -1.3), (0.8, -1.4), (1.5, -1.2), (2.2, -1.3), (2.9, -1.4), (3.5, -1.2),
    (-1.5, -2.0), (-0.8, -1.9), (-0.1, -2.1), (0.6, -2.0), (1.3, -1.9), (2.0, -2.1), (2.7, -2.0),
    (-0.9, -2.7), (-0.2, -2.8), (0.5, -2.6), (1.2, -2.7), (1.9, -2.8),
    (-0.2, 4.65), (0.5, 4.7), (1.2, 4.6), (1.9, 4.65), (2.6, 4.7), (3.3, 4.6),
    (-0.8, 3.95), (-0.1, 4.0), (0.6, 3.9), (1.3, 3.95), (2.0, 4.0), (2.7, 3.9), (3.4, 3.95),
    (-1.3, 3.25), (-0.6, 3.3), (0.1, 3.2), (0.8, 3.25), (1.5, 3.3), (2.2, 3.2), (2.9, 3.25), (3.6, 3.3),
    (-1.7, 2.55), (-1.0, 2.6), (-0.3, 2.5), (0.4, 2.55), (1.1, 2.6), (1.8, 2.5), (2.5, 2.55), (3.2, 2.6), (3.9, 2.5),
    (-2.0, 1.85), (-1.3, 1.9), (-0.6, 1.8), (0.1, 1.85), (0.8, 1.9), (1.5, 1.8), (2.2, 1.85), (2.9, 1.9), (3.6, 1.8), (4.3, 1.85),
    (-2.3, 1.15), (-1.6, 1.2), (-0.9, 1.1), (-0.2, 1.15), (0.5, 1.2), (1.2, 1.1), (1.9, 1.15), (2.6, 1.2), (3.3, 1.1),
    (4.0, 1.15), (4.6, 1.2),
    (-2.4, 0.45), (-1.7, 0.5), (-1.0, 0.4), (-0.3, 0.45), (0.4, 0.5), (1.1, 0.4), (1.8, 0.45), (2.5, 0.5), (3.2, 0.4),
    (3.9, 0.45), (4.5, 0.5),
    (-2.5, -0.25), (-1.8, -0.2), (-1.1, -0.3), (-0.4, -0.25), (0.3, -0.2), (1.0, -0.3), (1.7, -0.25), (2.4, -0.2),
    (3.1, -0.3), (3.8, -0.25),
    (-2.2, -0.95), (-1.5, -0.9), (-0.8, -1.0), (-0.1, -0.95), (0.6, -0.9), (1.3, -1.0), (2.0, -0.95), (2.7, -0.9), (3.4, -1.0),
    (-1.8, -1.65), (-1.1, -1.6), (-0.4, -1.7), (0.3, -1.65), (1.0, -1.6), (1.7, -1.7), (2.4, -1.65), (3.1, -1.6),
    (-1.2, -2.35), (-0.5, -2.3), (0.2, -2.4), (0.9, -2.35), (1.6, -2.3), (2.3, -2.4),
    (-3.0, 0.5), (-3.2, -0.8), (-2.8, 2.5), (-2.2, 3.5), (-1.5, 4.5), (-0.8, 5.5), (0.5, 6.0), (1.5, 6.3), (2.8, 6.1),
    (3.8, 5.5), (4.5, 4.5), (5.2, 3.5), (5.5, 2.0), (5.5, 0.5), (5.0, -1.0), (4.3, -2.2), (3.3, -2.8), (2.3, -3.4),
    (0.8, -3.5), (-0.5, -3.6), (-1.5, -3.0), (-2.5, -2.2), (-3.5, -2.5), (-4.0, -4.2), (-2.5, -3.8),
    (5.0, 8.8), (2.3, 8.0), (3.2, 7.2), (6.5, 7.0), (9.0, 6.0), (8.5, 1.5), (7.2, 2.7), (6.5, 2.0), (-5.3, -0.2),
    (-4.5, 0.8), (4.2, -5.3), (0.0, -5.8), (-1.5, -4.8), (5.1, -3.2), (6.0, 4.8),
]

SKY = "#56B4E9"
BLUE = "#0072B2"
GREEN = "#009E73"
ORANGE = "#D55E00"

PANELS = [
    ("T-Learner", T_LEARNER, SKY),
    ("S-Learner", S_LEARNER, SKY),
    ("X-Learner", X_LEARNER, SKY),
    ("DR-Learner", DR_LEARNER, SKY),
    ("Double-ML", DOUBLE_ML, BLUE),
    ("Causal Forest", CAUSAL_FOREST, BLUE),
    ("Causal Survival Forest", CAUSAL_SURVIVAL_FOREST, GREEN),
    ("SurvITE", SURVITE, GREEN),
    ("T-Learner Survival", T_LEARNER_SURVIVAL, ORANGE),
    ("S-Learner Survival", S_LEARNER_SURVIVAL, ORANGE),
    ("Matching Survival", MATCHING_SURVIVAL, ORANGE),
]

CAPTION = [
    "Figure 23: CATE Estimation comparison between baseline and high-censoring conditions under",
    "ZDV vs. ddI treatments (HIV3). Each point represents an individual patient in test sets, with the",
    "dashed diagonal line indicating perfect consistency between baseline CATE estimation and that with",
    "the additional censoring injected.",
]

X_TITLE = "CATE Est. - Baseline"
Y_TITLE = "CATE Est. - Add Censoring"
N_COLS = 6
MONO = "DejaVu Sans Mono"


def panel(idx, name, points, color):
    col = idx % N_COLS
    has_below = idx + N_COLS < len(PANELS)
    df = pd.DataFrame(points, columns=["baseline", "censored"])
    scale = alt.Scale(domain=AXIS_LIMITS, nice=False, zero=False)
    x_axis = alt.Axis(values=TICKS, labelOverlap=False, labelFlush=False,
                      title=None if has_below else X_TITLE)
    y_axis = alt.Axis(values=TICKS, labelOverlap=False, labelFlush=False,
                      title=Y_TITLE if col == 0 else None)
    x_enc = alt.X("baseline:Q", scale=scale, axis=x_axis)
    y_enc = alt.Y("censored:Q", scale=scale, axis=y_axis)

    dots = alt.Chart(df).mark_circle(size=28, opacity=0.42, color=color).encode(x=x_enc, y=y_enc)
    diag_df = pd.DataFrame({"baseline": DIAGONAL, "censored": DIAGONAL})
    diag = alt.Chart(diag_df).mark_line(
        color="black", strokeWidth=0.8, strokeDash=[3, 2]
    ).encode(x=x_enc, y=y_enc)

    return alt.layer(dots, diag).properties(
        width=167,
        height=155,
        title=alt.TitleParams(
            text=name, font=MONO, fontSize=13, fontWeight="bold",
            color="black", offset=2,
        ),
    )


charts = [panel(i, n, p, c) for i, (n, p, c) in enumerate(PANELS)]

chart = (
    alt.concat(*charts, columns=N_COLS, spacing={"row": 44, "column": 28}, bounds="flush")
    .properties(
        title=alt.TitleParams(
            text=CAPTION, orient="bottom", anchor="start", font="Liberation Serif",
            fontSize=29.5, fontWeight="normal", lineHeight=37.5, color="black",
            offset=22, dx=-8,
        ),
        padding={"left": 12, "top": 23, "right": 5, "bottom": 5},
        background="white",
    )
    .configure_view(stroke="black", strokeWidth=1)
    .configure_axis(
        grid=False, domainColor="black", domainWidth=1, tickColor="black", tickWidth=0.8,
        tickSize=3.5, labelColor="black", titleColor="black", labelFont=MONO, titleFont=MONO,
        labelFontSize=10.5, titleFontSize=10.5, titleFontWeight="normal", labelPadding=2,
        titlePadding=4, labelOverlap=False,
    )
)

chart.save("out.html", embed_options={"renderer": "svg", "actions": False})
